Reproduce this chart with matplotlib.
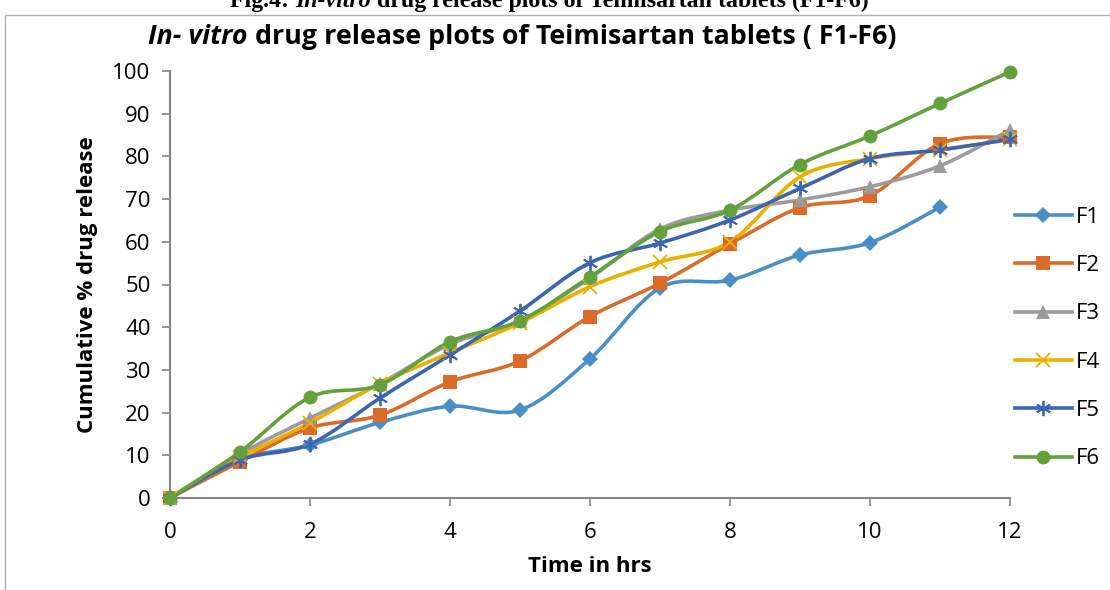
import matplotlib
matplotlib.use("Agg")
import matplotlib.pyplot as plt
from matplotlib.path import Path
from matplotlib.patches import PathPatch, Rectangle
from matplotlib.lines import Line2D
import numpy as np

time_f1 = [0, 1, 2, 3, 4, 5, 6, 7, 8, 9, 10, 11]
time_all = [0, 1, 2, 3, 4, 5, 6, 7, 8, 9, 10, 11, 12]
f1 = [0, 9.0, 12.4, 17.7, 21.5, 20.6, 32.6, 49.2, 51.0, 56.9, 59.8, 68.1]
f2 = [0, 8.5, 16.4, 19.4, 27.2, 32.1, 42.5, 50.3, 59.5, 68.0, 70.8, 83.0, 84.5]
f3 = [0, 10.3, 18.7, 26.8, 36.0, 41.5, 51.5, 63.0, 67.4, 69.8, 72.9, 77.8, 86.2]
f4 = [0, 9.5, 17.6, 26.8, 34.0, 41.0, 49.5, 55.3, 60.0, 75.2, 79.5, 81.5, 84.0]
f5 = [0, 8.9, 12.6, 23.4, 33.5, 43.8, 55.1, 59.7, 65.1, 72.5, 79.5, 81.5, 84.0]
f6 = [0, 10.8, 23.6, 26.5, 36.6, 41.5, 51.8, 62.4, 67.4, 78.1, 84.8, 92.4, 99.8]
labels = ["F1", "F2", "F3", "F4", "F5", "F6"]
x_ticks = [0, 2, 4, 6, 8, 10, 12]
y_ticks = [0, 10, 20, 30, 40, 50, 60, 70, 80, 90, 100]

series = [(time_f1, f1), (time_all, f2), (time_all, f3), (time_all, f4), (time_all, f5), (time_all, f6)]
colors = ["#4a8ec7", "#dc6b29", "#9b9b9b", "#e9b000", "#3b64b3", "#62a13c"]
markers = ["D", "s", "^", "x", (6, 2, 0), "o"]
msizes = [8, 10, 10, 10, 11, 10]

fig = plt.figure(figsize=(11.1, 5.9), dpi=100)
ax = fig.add_axes([170/1110, 1-498/590, 840/1110, 427/590])

def smooth_path(xs, ys):
    P = np.column_stack([xs, ys]).astype(float)
    n = len(P)
    verts = [P[0]]
    codes = [Path.MOVETO]
    for i in range(n-1):
        pm = P[i-1] if i > 0 else P[i]
        pn = P[i+2] if i+2 < n else P[i+1]
        c1 = P[i] + (P[i+1]-pm)/6.0
        c2 = P[i+1] - (pn-P[i])/6.0
        verts += [c1, c2, P[i+1]]
        codes += [Path.CURVE4]*3
    return Path(verts, codes)

handles = []
for (xs, ys), c, m, ms, lab in zip(series, colors, markers, msizes, labels):
    patch = PathPatch(smooth_path(xs, ys), facecolor="none", edgecolor=c, lw=2.6,
                      capstyle="round", joinstyle="round", clip_on=False, zorder=3)
    ax.add_patch(patch)
    mew = 1.3 if m in ("x",) or isinstance(m, tuple) else 0
    ax.plot(xs, ys, ls="none", marker=m, ms=ms, color=c, mec=c, mew=mew, clip_on=False, zorder=4)
    handles.append(Line2D([], [], color=c, lw=2.6, marker=m, ms=ms, mec=c, mew=mew))

ax.set_xlim(0, 12)
ax.set_ylim(0, 100)
ax.set_xticks(x_ticks)
ax.set_yticks(y_ticks)
for s in ["top", "right"]:
    ax.spines[s].set_visible(False)
for s in ["left", "bottom"]:
    ax.spines[s].set_color("#868686")
    ax.spines[s].set_linewidth(1.5)
ax.tick_params(axis="both", colors="#868686", length=6, width=1.2, labelcolor="black", labelsize=16)
ax.tick_params(axis="x", pad=11)
ax.tick_params(axis="y", pad=8)
for t in ax.get_xticklabels() + ax.get_yticklabels():
    t.set_family("Open Sans")

ax.set_xlabel("Time in hrs", fontsize=16, fontweight="bold", family="Open Sans", labelpad=10)
ax.set_ylabel("Cumulative % drug release", fontsize=16, fontweight="bold", family="Open Sans", labelpad=10)

leg = ax.legend(handles, labels, loc="center left", bbox_to_anchor=(995/1110, 1-338/590),
                bbox_transform=fig.transFigure, frameon=False, handlelength=2.55,
                handletextpad=0.2, labelspacing=1.23, borderpad=0.4,
                prop={"family": "Open Sans", "size": 16})

# chart border
fig.patches.append(Rectangle((5/1110, -0.1), 1.2, 1-15/590+0.1, transform=fig.transFigure,
                             fill=False, edgecolor="#b0b0b0", lw=1.0))

# chart title
t1 = fig.text(148/1110, 1-37/590, "In- vitro", fontsize=19.3, fontweight="bold", style="italic",
              family="Open Sans", va="center", ha="left")
fig.canvas.draw()
ax.annotate(" drug release plots of Teimisartan tablets ( F1-F6)", xy=(1, 0), xycoords=t1,
            va="bottom", ha="left", fontsize=19.3, fontweight="bold", family="Open Sans",
            annotation_clip=False)

# clipped figure caption at top (cut off by the edge, as in the reference)
c1 = fig.text(230/1110, 1-7/590, "Fig.4: ", fontsize=17.2, fontweight="bold", family="Liberation Serif",
              va="baseline", ha="left")
c2 = ax.annotate("In-vitro", xy=(1, 0), xycoords=c1, va="bottom", ha="left", fontsize=17.2,
                 fontweight="bold", style="italic", family="Liberation Serif", annotation_clip=False)
ax.annotate(" drug release plots of Teimisartan tablets (F1-F6)", xy=(1, 0), xycoords=c2,
            va="bottom", ha="left", fontsize=17.2, fontweight="bold", family="Liberation Serif",
            annotation_clip=False)

fig.savefig("out.png", dpi=100)
